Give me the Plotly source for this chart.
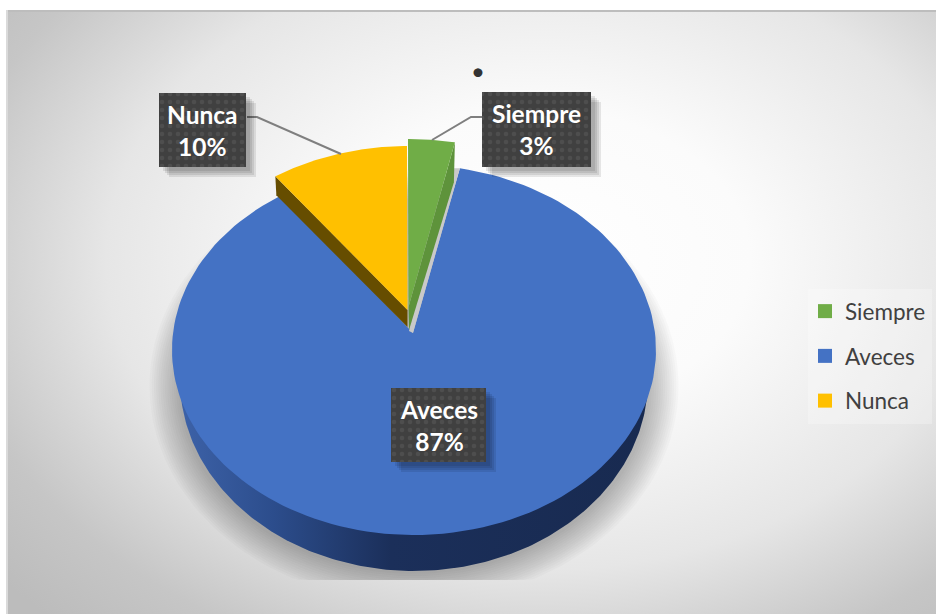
import numpy as np
import plotly.graph_objects as go

# --- data ---
categories = ["Siempre", "Aveces", "Nunca"]
values = [3, 87, 10]
top_colors = ["#70ad47", "#4472c4", "#ffc000"]
wall_colors = ["#5e933b", "#1b2f5a", "#664d00"]

# --- pie projection (pixels of the page) ---
CX, CY, RX, RY = 414, 350, 242, 185
APEX = (413, 333)
FONT = "Lato, Carlito, sans-serif"

# label box per category: x0, x1, y0, y1
boxes = {"Siempre": (482, 591, 92, 167), "Aveces": (391, 486, 388, 462), "Nunca": (159, 246, 93, 167)}
leaders = [([247, 257, 341], [117, 117, 154]), ([482, 471, 432], [117, 117, 140])]


def rim(theta):
    """Where the ray leaving the apex at clock angle theta meets the ellipse."""
    t = np.radians(theta)
    tilt = 0.67 if theta < 180 else 0.76  # perspective is not the same on both sides
    dx, dy = np.sin(t), -tilt * np.cos(t)
    px, py = APEX[0] - CX, APEX[1] - CY
    a = (dx / RX) ** 2 + (dy / RY) ** 2
    b = 2 * (px * dx / RX**2 + py * dy / RY**2)
    c = (px / RX) ** 2 + (py / RY) ** 2 - 1
    s = (-b + np.sqrt(b * b - 4 * a * c)) / (2 * a)
    return APEX[0] + s * dx, APEX[1] + s * dy


def poly(xs, ys, color, **kw):
    return go.Scatter(x=list(xs), y=list(ys), mode="lines", fill="toself", fillcolor=color,
                      line=dict(width=0), hoverinfo="skip", showlegend=False, **kw)


edges = np.cumsum([0] + values) / sum(values) * 360
arcs = [np.array([rim(a) for a in np.linspace(edges[i], edges[i + 1], 160)]) for i in range(3)]

fig = go.Figure()

# backdrop, the rectangle is larger than the view so the glow sits off centre
fig.add_trace(go.Scatter(
    x=[-160, 1240, 1240, -160, -160], y=[-240, -240, 760, 760, -240], mode="lines", fill="toself",
    line=dict(width=0), hoverinfo="skip", showlegend=False,
    fillgradient=dict(type="radial", colorscale=[[0, "#ffffff"], [0.3, "#fbfbfb"], [0.62, "#e6e6e6"], [0.85, "#c6c6c6"], [1, "#bcbcbc"]]),
))

# thin frame edges of the chart area
fig.add_trace(poly([6, 936, 936, 6, 6], [10, 10, 12, 12, 10], "#bdbdbd"))
fig.add_trace(poly([6, 8, 8, 6, 6], [10, 10, 614, 614, 10], "#dadada"))

# soft shadow under the pie
t = np.linspace(0, 2 * np.pi, 200)
for i in range(14):
    fig.add_trace(poly(CX + (236 + 2.2 * i) * np.cos(t),
                       np.minimum(386 + (188 + 2.2 * i) * np.sin(t), 580),
                       "rgba(0,0,0,0.018)"))

# blue wall + face
t = np.linspace(0, np.pi, 200)
fig.add_trace(go.Scatter(
    x=CX + 234 * np.cos(t), y=380 + 191 * np.sin(t), mode="lines", fill="toself",
    line=dict(width=0), hoverinfo="skip", showlegend=False,
    fillgradient=dict(type="horizontal", colorscale=[[0, "#3d62a8"], [0.2, "#2c4d8c"], [0.45, "#1b2f5a"], [1, "#182a50"]]),
))
fig.add_trace(poly([APEX[0], *arcs[1][:, 0], APEX[0]], [APEX[1], *arcs[1][:, 1], APEX[1]], top_colors[1]))

# grey sliver on the cut of the blue slice
r = arcs[1][0]
fig.add_trace(poly([APEX[0], r[0], r[0] - 6, APEX[0] - 4], [APEX[1], r[1], r[1], APEX[1] - 2], "#c9c9c9"))

# yellow slice, lifted out of the pie
ox, oy, ay = -6, -19, 310
a = arcs[2] + [ox, oy]
fig.add_trace(poly([a[0, 0], a[0, 0] + 1, 407.5, 407.5], [a[0, 1], a[0, 1] + 19, 327, ay], wall_colors[2]))
fig.add_trace(poly([407.5, *a[:, 0], 407.5], [ay, *a[:, 1], ay], top_colors[2]))

# green slice
ox, oy, ay = -5, -26, 307
a = arcs[0] + [ox, oy]
fig.add_trace(poly([a[-1, 0], a[-1, 0] - 1, 409, 408.5], [a[-1, 1], a[-1, 1] + 40, 330, ay], wall_colors[0]))
fig.add_trace(poly([408.5, *a[:, 0], 408.5], [ay, *a[:, 1], ay], top_colors[0]))

# leader lines
for lx, ly in leaders:
    fig.add_trace(go.Scatter(x=lx, y=ly, mode="lines", line=dict(color="#7f7f7f", width=2),
                             hoverinfo="skip", showlegend=False))

# data labels
for name, val in zip(categories, values):
    x0, x1, y0, y1 = boxes[name]
    for off in (10, 8, 6, 4):
        fig.add_trace(poly([x0 + off, x1 + off, x1 + off, x0 + off, x0 + off],
                           [y0 + off, y0 + off, y1 + off, y1 + off, y0 + off], "rgba(0,0,0,0.09)"))
    fig.add_trace(go.Scatter(
        x=[x0, x1, x1, x0, x0], y=[y0, y0, y1, y1, y0], mode="lines", fill="toself", line=dict(width=0),
        fillpattern=dict(shape=".", bgcolor="#404040", fgcolor="#4e4e4e", size=8, solidity=0.25, fillmode="replace"),
        hoverinfo="skip", showlegend=False,
    ))
    fig.add_annotation(x=(x0 + x1) / 2, y=(y0 + y1) / 2, xref="x", yref="y", showarrow=False,
                       text=f"<b>{name}<br>{val}%</b>", font=dict(family=FONT, size=24.5, color="white"))

fig.add_annotation(x=478, y=70, xref="x", yref="y", showarrow=False, text="•",
                   font=dict(family=FONT, size=24, color="#333333"))

# legend backing and entries
fig.add_trace(poly([808, 932, 932, 808, 808], [289, 289, 424, 424, 289], "rgba(255,255,255,0.25)"))
for name, col in zip(categories, top_colors):
    fig.add_trace(go.Scatter(x=[None], y=[None], mode="markers", name=name, legendgroup=name,
                             marker=dict(symbol="square", size=14, color=col)))

fig.update_layout(
    width=936, height=614,
    margin=dict(l=6, r=0, t=10, b=0),
    paper_bgcolor="white",
    plot_bgcolor="white",
    xaxis=dict(range=[6, 936], visible=False, fixedrange=True),
    yaxis=dict(range=[614, 10], visible=False, fixedrange=True),
    legend=dict(x=(805 - 6) / 930, y=1 - (290 - 10) / 604, xanchor="left", yanchor="top",
                bgcolor="rgba(0,0,0,0)", tracegroupgap=12.5, traceorder="grouped",
                font=dict(family=FONT, size=22.5, color="#404040")),
)

# the page keeps its default 8px body margin otherwise
fig.write_html("out.html", config={"displayModeBar": False},
               post_script="document.body.style.margin='0';")
